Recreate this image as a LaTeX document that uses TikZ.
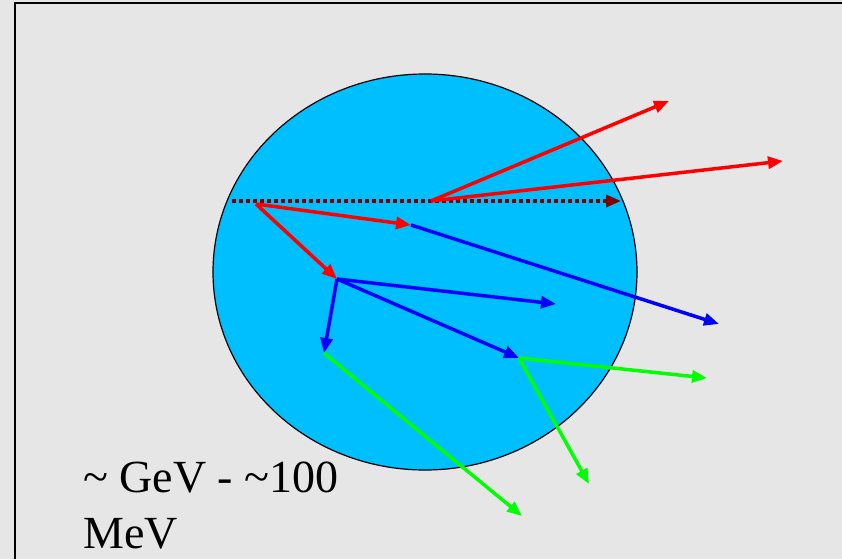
\documentclass[tikz,border=0pt]{standalone}
\usepackage{fontspec}
\setmainfont{Liberation Serif}
\usetikzlibrary{arrows.meta}

\definecolor{slidegray}{RGB}{230,230,230}
\definecolor{nucleus}{RGB}{0,191,255}
\definecolor{darkred}{RGB}{128,0,0}

\begin{document}
\begin{tikzpicture}[x=1pt, y=-1pt,
    ray/.style={line width=3.5pt, -{Triangle[length=15pt,width=12pt]}},
    hadron/.style={ray, red},
    pion/.style={ray, blue},
    photon/.style={ray, green}]
  \useasboundingbox (0,0) rectangle (842,559);
  \fill[slidegray] (0,0) rectangle (842,559);
  \draw[line width=2pt] (14.5,559) -- (14.5,3.5) -- (842,3.5);

  % nucleus
  \draw[fill=nucleus, line width=1.2pt] (425,272) ellipse (212 and 198);

  \coordinate (A) at (256, 204);
  \coordinate (B) at (411, 225);
  \coordinate (C) at (337, 279);
  \coordinate (D) at (431, 201);
  \coordinate (E) at (519, 358);
  \coordinate (F) at (324, 353);
  % end points of the outgoing tracks
  \coordinate (in)  at (232, 201);
  \coordinate (out) at (621, 201);
  \coordinate (D1) at (669, 101);
  \coordinate (D2) at (783, 161);
  \coordinate (B1) at (719, 324);
  \coordinate (C1) at (556, 304);
  \coordinate (E1) at (707, 378);
  \coordinate (E2) at (589, 484);
  \coordinate (F1) at (522, 516);

  % incoming beam
  \draw[darkred, line width=3.5pt, dash pattern=on 4pt off 3pt,
        -{Triangle[length=15pt,width=12pt]}] (in) -- (out);

  \draw[hadron] (D) -- (D1);
  \draw[hadron] (D) -- (D2);
  \draw[hadron] (A) -- (B);
  \draw[hadron] (A) -- (C);

  \draw[pion] (B) -- (B1);
  \draw[pion] (C) -- (C1);
  \draw[pion] (C) -- (E);
  \draw[pion] (C) -- (F);

  \draw[photon] (E) -- (E1);
  \draw[photon] (E) -- (E2);
  \draw[photon] (F) -- (F1);

  \node[anchor=base west, align=left, inner sep=0pt,
        font=\fontsize{46}{56}\selectfont] (energy) at (83,548)
    {\textasciitilde{} GeV - \textasciitilde100\\MeV};
\end{tikzpicture}
\end{document}
